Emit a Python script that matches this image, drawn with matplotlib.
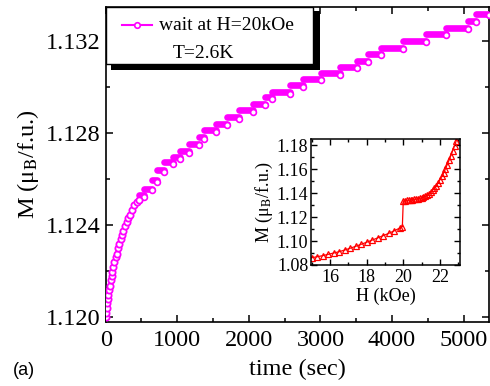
import numpy as np
import matplotlib
matplotlib.use("Agg")
import matplotlib.pyplot as plt
from matplotlib.patches import Rectangle
from matplotlib.lines import Line2D
from matplotlib.ticker import MultipleLocator

plt.rcParams['font.family'] = ['Liberation Serif', 'DejaVu Serif']
plt.rcParams['mathtext.fontset'] = 'stix'

MAG = '#ff00ff'

# main panel: smooth start of the relaxation (sec, muB/f.u.)
t_early = [0, 5, 14, 23, 28, 37, 46, 60, 70, 84, 93, 107, 121, 140, 154, 177,
           191, 210, 224, 247, 270, 294, 317, 340, 373, 396, 434, 471]
M_early = [1.12000, 1.12017, 1.12039, 1.12061, 1.12078, 1.12097, 1.12118,
           1.12137, 1.12162, 1.12179, 1.12198, 1.12219, 1.12241, 1.12260,
           1.12277, 1.12299, 1.12318, 1.12338, 1.12357, 1.12375, 1.12396,
           1.12414, 1.12433, 1.12443, 1.12465, 1.12487, 1.12501, 1.12508]

# main panel: staircase part, each level held from step_start to step_end
step_start = [470, 540, 640, 720, 820, 940, 1040, 1160, 1310, 1380, 1540, 1700,
              1860, 2060, 2220, 2330, 2580, 2750, 3010, 3280, 3510, 3670, 3840,
              4150, 4470, 4750, 5060, 5170]
step_end = step_start[1:] + [5360]
step_M = [1.12530, 1.12559, 1.12595, 1.12638, 1.12674, 1.12696, 1.12722,
          1.12754, 1.12783, 1.12812, 1.12841, 1.12870, 1.12899, 1.12928,
          1.12957, 1.12978, 1.13007, 1.13037, 1.13059, 1.13089, 1.13115,
          1.13145, 1.13171, 1.13202, 1.13232, 1.13258, 1.13288, 1.13319]
dip = 0.00007

# inset: M vs H
H_in = [15.0, 15.3, 15.6, 15.9, 16.2, 16.5, 16.8, 17.1, 17.4, 17.7, 18.0, 18.3,
        18.6, 18.9, 19.2, 19.5, 19.8, 19.95,
        20.0, 20.1, 20.2, 20.3, 20.4, 20.5, 20.6, 20.7, 20.8, 20.9, 21.0, 21.1,
        21.2, 21.3, 21.4, 21.5, 21.6, 21.7, 21.8, 21.9, 22.0, 22.1, 22.2, 22.3,
        22.4, 22.5, 22.6, 22.7, 22.8, 22.9]
M_in = [1.0861, 1.0869, 1.0878, 1.0889, 1.0900, 1.0911, 1.0925, 1.0940, 1.0956,
        1.0973, 1.0990, 1.1008, 1.1026, 1.1045, 1.1064, 1.1085, 1.1108, 1.1120,
        1.1335, 1.1338, 1.1340, 1.1342, 1.1344, 1.1346, 1.1349, 1.1351, 1.1354,
        1.1357, 1.1362, 1.1367, 1.1374, 1.1383, 1.1394, 1.1408, 1.1424, 1.1442,
        1.1463, 1.1487, 1.1512, 1.1540, 1.1570, 1.1603, 1.1638, 1.1675, 1.1714,
        1.1755, 1.1797, 1.1840]

fig = plt.figure(figsize=(4.9, 3.86), dpi=100)
ax = fig.add_axes([0.2157, 0.1666, 0.9980 - 0.2157, 0.9826 - 0.1666])

ax.hlines(step_M, step_start, step_end, colors=MAG, lw=4.8, capstyle='round', zorder=3)
ax.plot(step_end, np.array(step_M) - dip, 'o', color=MAG, ms=4.2, mew=1.2,
        mfc='white', zorder=4)
ax.plot(t_early, M_early, '-o', color=MAG, ms=4.5, mew=1.3, mfc='white', lw=1, zorder=4)

ax.set_xlim(0, 5355)
ax.set_ylim(1.11981, 1.13349)
ax.xaxis.set_major_locator(MultipleLocator(1000))
ax.xaxis.set_minor_locator(MultipleLocator(500))
ax.yaxis.set_major_locator(MultipleLocator(0.004))
ax.yaxis.set_minor_locator(MultipleLocator(0.002))
ax.yaxis.set_major_formatter(matplotlib.ticker.FormatStrFormatter('%.3f'))
ax.tick_params(which='both', direction='in', top=True, right=True, labelsize=17.5, width=1.1)
ax.tick_params(which='major', length=5, pad=6)
ax.tick_params(which='minor', length=3)
ax.tick_params(axis='y', pad=4)
for s in ax.spines.values():
    s.set_linewidth(1.2)
ax.set_xlabel('time (sec)', fontsize=17.5, labelpad=6)
ax.set_ylabel('M (μ$_\\mathrm{B}$/f.u.)', fontsize=17.5, labelpad=3)


# legend box with heavy black shadow (pixel geometry -> axes fraction)
def axfrac(px, py):
    return ((px - 105.7) / (489.0 - 105.7), (321.7 - py) / (321.7 - 6.7))


x0, y0 = axfrac(111, 70)
x1, y1 = axfrac(320, 11)
ax.add_patch(Rectangle((x0, y0), x1 - x0, y1 - y0, transform=ax.transAxes,
                       facecolor='black', edgecolor='none', zorder=6))
x0, y0 = axfrac(105.7, 64)
x1, y1 = axfrac(313, 6.7)
ax.add_patch(Rectangle((x0, y0), x1 - x0, y1 - y0, transform=ax.transAxes,
                       facecolor='white', edgecolor='black', lw=1, zorder=7))
lx0, ly = axfrac(122, 25)
lx1, _ = axfrac(152, 25)
lxm, _ = axfrac(137, 25)
ax.add_line(Line2D([lx0, lx1], [ly, ly], transform=ax.transAxes, color=MAG, lw=1.5, zorder=8))
ax.add_line(Line2D([lxm], [ly], transform=ax.transAxes, marker='o', color=MAG, ms=4,
                   mew=1.2, mfc='white', zorder=9))
tx, ty = axfrac(159, 25)
ax.text(tx, ty, 'wait at H=20kOe', transform=ax.transAxes, fontsize=14,
        family='Liberation Serif', ha='left', va='center', zorder=9)
tx, ty = axfrac(203, 53)
ax.text(tx, ty, 'T=2.6K', transform=ax.transAxes, fontsize=14,
        family='Liberation Serif', ha='center', va='center', zorder=9)

# inset
ins = fig.add_axes([0.6347, 0.3135, 0.9388 - 0.6347, 0.6391 - 0.3135])
ins.plot(H_in, M_in, '-^', color='red', ms=4, mew=0.9, mfc='none', lw=0.9)
ins.set_xlim(14.96, 23.1)
ins.set_ylim(1.08, 1.185)
ins.xaxis.set_major_locator(MultipleLocator(2))
ins.xaxis.set_minor_locator(MultipleLocator(1))
ins.yaxis.set_major_locator(MultipleLocator(0.02))
ins.yaxis.set_minor_locator(MultipleLocator(0.01))
ins.yaxis.set_major_formatter(matplotlib.ticker.FormatStrFormatter('%.2f'))
ins.tick_params(which='both', direction='in', top=True, right=True, labelsize=13, width=1)
ins.tick_params(which='major', length=4, pad=3)
ins.tick_params(which='minor', length=2.5)
ins.tick_params(axis='y', pad=2)
for s in ins.spines.values():
    s.set_linewidth(1.1)
ins.set_xlabel('H (kOe)', fontsize=13, labelpad=1)
ins.set_ylabel('M (μ$_\\mathrm{B}$/f.u.)', fontsize=13, labelpad=1)

fig.text(0.027, 0.041, '(a)', fontsize=13, family='Liberation Sans', ha='left', va='center')

fig.savefig('out.png', dpi=100)
